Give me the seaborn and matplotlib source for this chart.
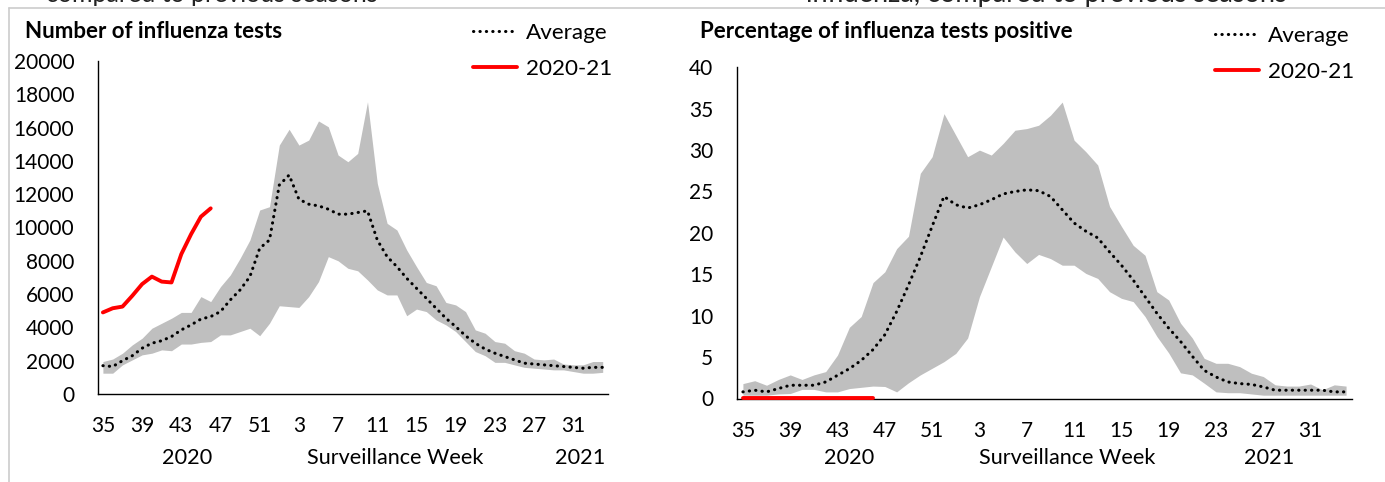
import numpy as np
import pandas as pd
import matplotlib
matplotlib.use("Agg")
import matplotlib.pyplot as plt
from matplotlib.lines import Line2D
import matplotlib.transforms as mtransforms
import seaborn as sns

# ---------------- data ----------------
weeks = list(range(35, 53)) + list(range(1, 35))          # 52 surveillance weeks
tick_weeks = [35, 39, 43, 47, 51, 3, 7, 11, 15, 19, 23, 27, 31]

tests_avg = [1700, 1650, 2000, 2300, 2750, 3050, 3200, 3450, 3850, 4150, 4500, 4650,
             4950, 5650, 6250, 7050, 8750, 9250, 12550, 13150, 11700, 11400, 11300, 11100, 10800,
             10800, 10900, 11000, 9250, 8250, 7650, 6950, 6350, 5750, 5150, 4550, 4050, 3500,
             3050, 2700, 2450, 2250, 2050, 1850, 1800, 1750, 1700, 1650, 1600, 1550, 1600, 1600]
tests_max = [1950, 2100, 2450, 2950, 3350, 3950, 4250, 4550, 4900, 4900, 5850, 5550,
             6450, 7150, 8150, 9250, 11050, 11250, 14950, 15900, 14950, 15250, 16400, 16050, 14350,
             13950, 14450, 17550, 12650, 10250, 9850, 8650, 7650, 6700, 6500, 5500, 5350, 4950,
             3850, 3650, 3150, 3050, 2600, 2450, 2100, 2050, 2100, 1800, 1750, 1750, 1950, 1950]
tests_min = [1250, 1250, 1750, 2050, 2350, 2450, 2650, 2600, 3000, 3000, 3100, 3150,
             3550, 3550, 3750, 3950, 3500, 4250, 5300, 5250, 5200, 5850, 6750, 8250, 8000,
             7550, 7400, 6850, 6250, 5950, 5950, 4700, 5100, 4950, 4450, 4150, 3750, 3150,
             2550, 2300, 1900, 1900, 1750, 1600, 1550, 1500, 1450, 1450, 1350, 1250, 1250, 1300]
tests_2021 = [4900, 5150, 5250, 5900, 6600, 7050, 6750, 6700, 8400, 9600, 10650, 11150]

pos_avg = [0.8, 1.0, 0.8, 1.2, 1.6, 1.6, 1.6, 2.0, 2.8, 3.6, 4.6, 5.9,
           7.7, 10.5, 13.7, 17.1, 20.8, 24.4, 23.4, 23.0, 23.4, 24.0, 24.7, 25.0,
           25.2, 25.1, 24.4, 22.8, 21.2, 20.2, 19.4, 17.7, 16.1, 14.3, 12.3, 10.3, 8.5, 6.9,
           5.1, 3.4, 2.6, 2.0, 1.8, 1.7, 1.4, 1.0, 1.0, 1.0, 1.0, 1.0, 0.8, 0.8]
pos_max = [1.8, 2.15, 1.6, 2.3, 2.85, 2.3, 2.85, 3.25, 5.25, 8.6, 9.9, 14.0,
           15.3, 18.1, 19.6, 27.2, 29.2, 34.4, 31.8, 29.2, 30.0, 29.4, 30.8, 32.4,
           32.6, 33.0, 34.2, 35.8, 31.2, 29.8, 28.2, 23.2, 20.8, 18.5, 17.3, 12.9, 11.9, 9.1,
           7.3, 4.85, 4.25, 4.25, 3.85, 3.05, 2.65, 1.65, 1.5, 1.5, 1.75, 1.05, 1.65, 1.5]
pos_min = [0.4, 0.4, 0.4, 0.55, 0.6, 1.1, 1.1, 0.8, 0.8, 1.2, 1.35, 1.5,
           1.45, 0.8, 1.9, 2.85, 3.65, 4.45, 5.45, 7.3, 12.3, 15.9, 19.5, 17.7,
           16.3, 17.4, 16.9, 16.1, 16.1, 15.1, 14.5, 12.9, 12.1, 11.7, 9.9, 7.5, 5.5, 3.1,
           2.85, 1.85, 0.8, 0.7, 0.7, 0.55, 0.4, 0.4, 0.4, 0.4, 0.4, 0.4, 0.4, 0.4]
pos_2021 = [0.1] * 12

year_labels = ["2020", "Surveillance Week", "2021"]

# ---------------- style ----------------
sns.set_theme(style="white")
FONT = ["Lato", "DejaVu Sans"]
plt.rcParams["font.family"] = FONT
plt.rcParams["text.color"] = "black"

W, H = 1385, 482
FS_TICK = 15.0
FS_TEXT = 15.6
FS_LEG = 16.2
FS_TITLE = 16.0
BAND = "#bfbfbf"
RED = "#ff0000"

fig = plt.figure(figsize=(W / 100, H / 100), dpi=100)
fig.patch.set_facecolor("white")

idx = np.arange(len(weeks))
tick_idx = [weeks.index(w) if i < 5 else weeks.index(w, 18) for i, w in enumerate(tick_weeks)]


def panel(rect, avg, lo, hi, cur, ymax, ystep, title, title_x, year_x, leg_anchor):
    ax = fig.add_axes(rect)
    df = pd.DataFrame({"i": idx, "avg": avg, "lo": lo, "hi": hi})
    dcur = pd.DataFrame({"i": idx[:len(cur)], "cur": cur})
    ax.fill_between(df["i"], df["lo"], df["hi"], color=BAND, linewidth=0, zorder=1)
    sns.lineplot(data=df, x="i", y="avg", ax=ax, color="black", linewidth=2.2,
                 linestyle=(0, (0.1, 2.0)), dash_capstyle="round", label="Average",
                 errorbar=None, zorder=3)
    sns.lineplot(data=dcur, x="i", y="cur", ax=ax, color=RED, linewidth=2.8,
                 label="2020-21", errorbar=None, zorder=4, clip_on=False)
    ax.set_xlim(-0.5, len(weeks) - 0.5)
    ax.set_ylim(0, ymax)
    ax.set_yticks(np.arange(0, ymax + 1e-9, ystep))
    ax.set_xticks(tick_idx)
    ax.set_xticklabels([str(w) for w in tick_weeks])
    ax.set_xlabel("")
    ax.set_ylabel("")
    ax.tick_params(axis="both", length=0, labelsize=FS_TICK, colors="black")
    ax.tick_params(axis="y", pad=17)
    ax.tick_params(axis="x", pad=16)
    for s in ["top", "right"]:
        ax.spines[s].set_visible(False)
    for s in ["left", "bottom"]:
        ax.spines[s].set_color("black")
        ax.spines[s].set_linewidth(1.0)
    ax.set_facecolor("white")
    ax.grid(False)
    # legend
    h, l = ax.get_legend_handles_labels()
    ax.legend(h, l, loc="upper right", bbox_to_anchor=leg_anchor,
              bbox_transform=fig.transFigure, frameon=False, fontsize=FS_LEG,
              handlelength=1.95, handletextpad=0.4, labelspacing=0.7,
              borderpad=0, borderaxespad=0)
    # title
    fig.text(title_x / W, 1 - 32 / H, title, fontsize=FS_TITLE, fontweight="bold",
             ha="left", va="center")
    # year / axis-name row
    tr = mtransforms.blended_transform_factory(ax.transData, fig.transFigure)
    for lab, xv in zip(year_labels, year_x):
        ax.text(xv, 1 - 458 / H, lab, transform=tr, fontsize=FS_TEXT, ha="center", va="center")
    return ax


ax1 = panel([98 / W, 1 - 394 / H, 509.6 / W, 333 / H], tests_avg, tests_min, tests_max,
            tests_2021, 20000, 2000, "Number of influenza tests", 25,
            [8.6, 29.8, 48.7], (612 / W, 1 - 23 / H))
ax2 = panel([737 / W, 1 - 398.5 / H, 615 / W, 331.2 / H], pos_avg, pos_min, pos_max,
            pos_2021, 40, 5, "Percentage of influenza tests positive", 700,
            [9.0, 27.4, 44.5], (1354 / W, 1 - 26 / H))

# frame lines and clipped heading text from the surrounding page
fig.add_artist(Line2D([9 / W, 1], [1 - 8 / H, 1 - 8 / H], transform=fig.transFigure,
                      color="#cccccc", linewidth=1.2))
fig.add_artist(Line2D([9 / W, 9 / W], [0, 1 - 8 / H], transform=fig.transFigure,
                      color="#cccccc", linewidth=1.2))
fig.text(46 / W, 1 - 2 / H, "compared to previous seasons", fontsize=18,
         ha="left", va="baseline", color="#222222")
fig.text(806 / W, 1 - 2 / H, "influenza, compared to previous seasons", fontsize=19.5,
         ha="left", va="baseline", color="#222222")

fig.savefig("out.png", dpi=100, facecolor="white")
